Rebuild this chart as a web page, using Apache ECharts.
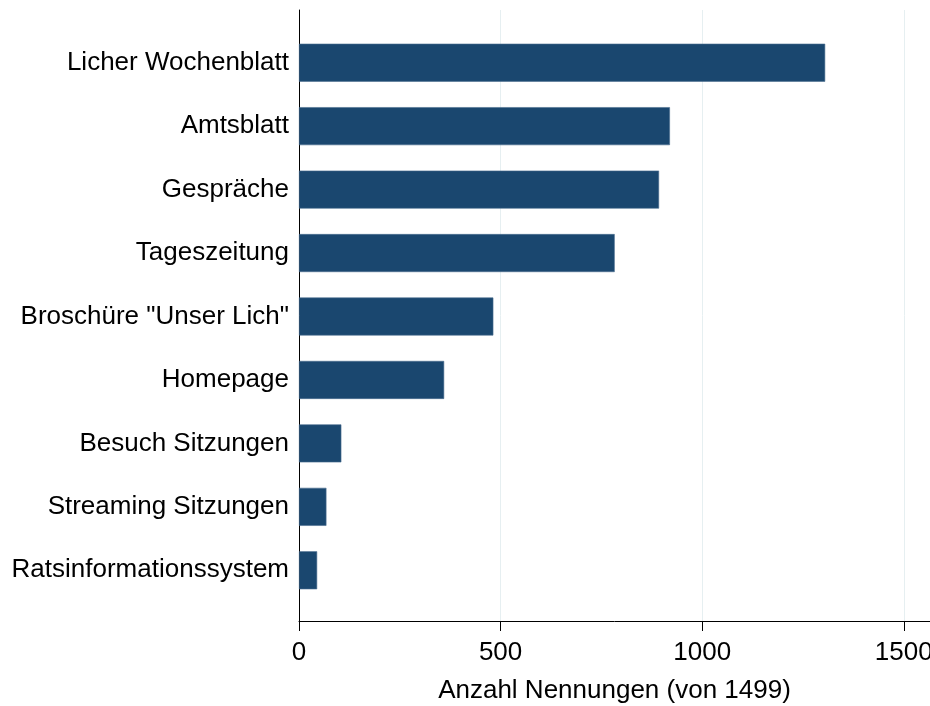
<!DOCTYPE html>
<html>
<head>
<meta charset="utf-8">
<script src="https://cdn.jsdelivr.net/npm/echarts@6/dist/echarts.min.js"></script>
<style>
	html, body { margin: 0; padding: 0; background: #fff; }
	#chart { width: 930px; height: 706px; }
</style>
</head>
<body>
<div id="chart"></div>
<script>
// Kategorien von oben nach unten
const categories = [
	'Licher Wochenblatt',
	'Amtsblatt',
	'Gespräche',
	'Tageszeitung',
	'Broschüre "Unser Lich"',
	'Homepage',
	'Besuch Sitzungen',
	'Streaming Sitzungen',
	'Ratsinformationssystem'
];
const counts = [1305, 920, 893, 783, 482, 360, 105, 68, 45];
const xTicks = [0, 500, 1000, 1500];

const font = 'Arial, "Liberation Sans", sans-serif';
const navy = '#1a476f';
const xMax = 1565;

const myChart = echarts.init(document.getElementById('chart'));

const option = {
	backgroundColor: '#fff',
	animation: false,
	grid: [
		// Rahmen: Achsenlinien und Gitter
		{ left: 299, right: 0, top: 10, bottom: 85, outerBoundsMode: 'none' },
		// Balkenbereich
		{ left: 299, right: 0, top: 31, bottom: 104, outerBoundsMode: 'none' }
	],
	xAxis: [
		{
			gridIndex: 0,
			type: 'value',
			min: 0,
			max: xMax,
			name: 'Anzahl Nennungen (von 1499)',
			nameLocation: 'middle',
			nameGap: 57,
			nameTextStyle: { color: '#000', fontSize: 26, fontFamily: font },
			axisLine: { show: true, lineStyle: { color: '#000', width: 1 } },
			axisTick: {
				show: true,
				customValues: xTicks,
				length: 10,
				lineStyle: { color: '#000', width: 1 }
			},
			axisLabel: {
				customValues: xTicks,
				margin: 19,
				color: '#000',
				fontSize: 26,
				fontFamily: font,
				formatter: function (v) { return String(v); }
			},
			splitLine: { show: true, lineStyle: { color: '#e6eff1', width: 1 } }
		},
		{
			gridIndex: 1,
			type: 'value',
			min: 0,
			max: xMax,
			show: false,
			splitLine: { show: false }
		}
	],
	yAxis: [
		{
			gridIndex: 0,
			type: 'value',
			min: 0,
			max: 1,
			axisLine: { show: true, lineStyle: { color: '#000', width: 1 } },
			axisTick: { show: false },
			axisLabel: { show: false },
			splitLine: { show: false }
		},
		{
			gridIndex: 1,
			type: 'category',
			inverse: true,
			data: categories,
			axisLine: { show: false },
			axisTick: { show: false },
			axisLabel: {
				margin: 10,
				padding: [5, 0, 0, 0],
				color: '#000',
				fontSize: 26,
				fontFamily: font
			}
		}
	],
	series: [
		{
			type: 'bar',
			xAxisIndex: 1,
			yAxisIndex: 1,
			data: counts,
			barWidth: 38,
			itemStyle: { color: navy, borderColor: '#4a6d8f', borderWidth: 0.6 }
		}
	]
};

myChart.setOption(option);
</script>
</body>
</html>
